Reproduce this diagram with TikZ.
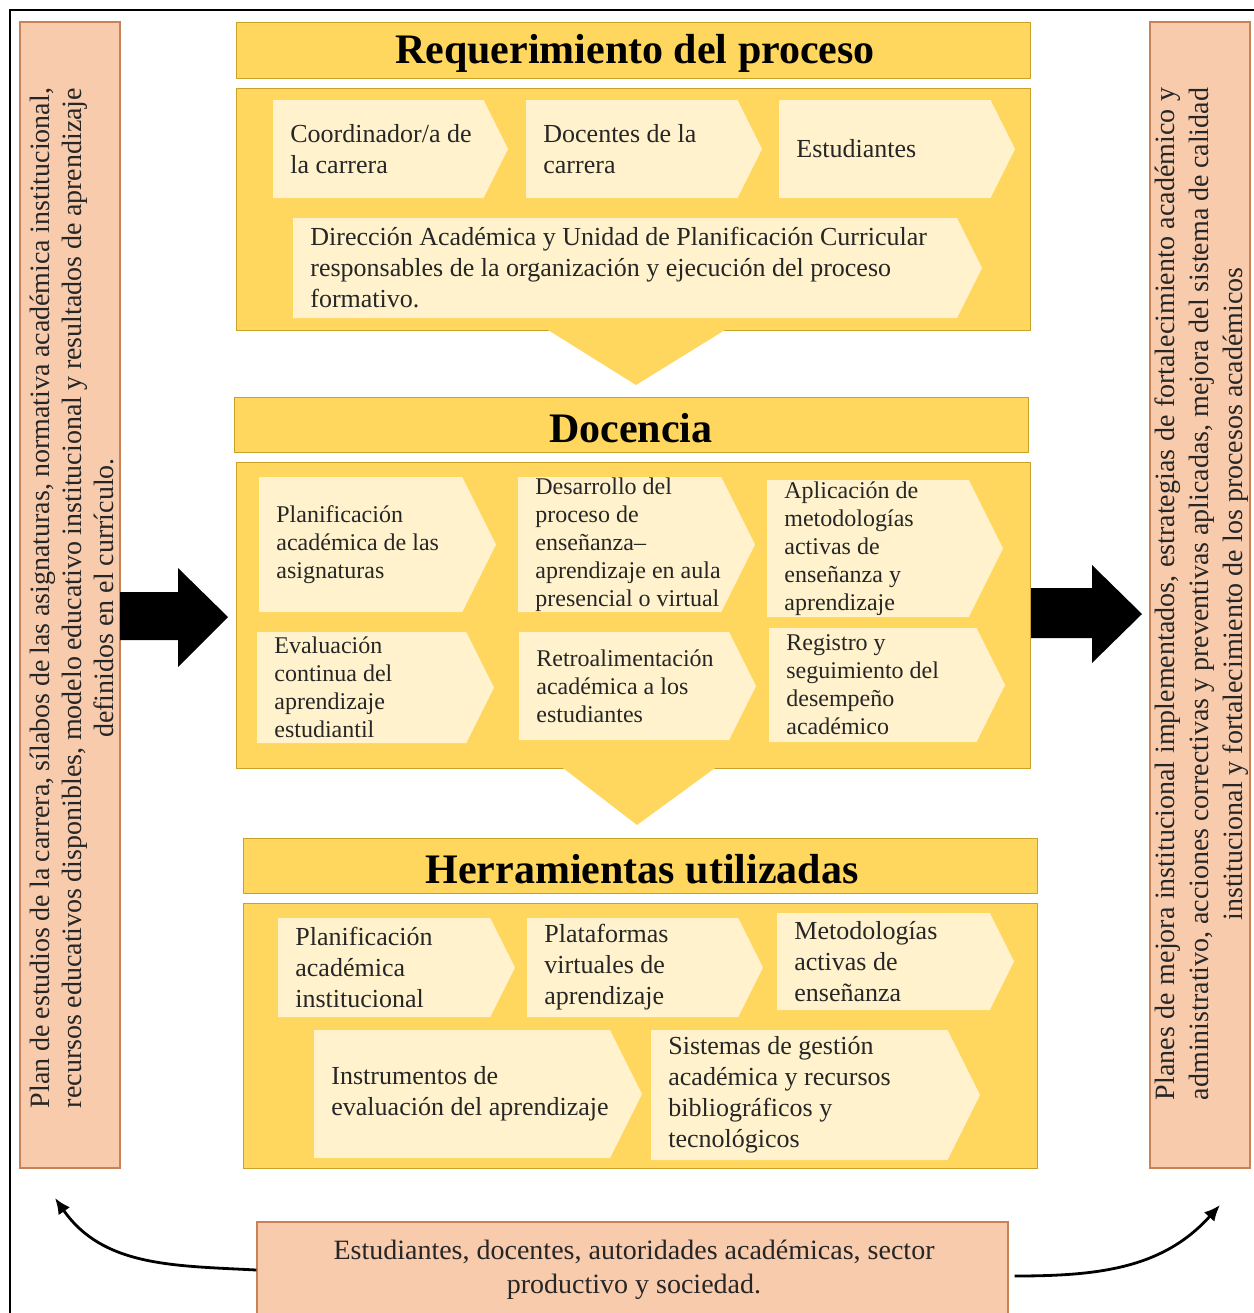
\documentclass[tikz,border=0pt]{standalone}
\usepackage{fontspec}
\setmainfont{Liberation Serif}
\usetikzlibrary{arrows.meta}

\definecolor{panelyellow}{HTML}{FFD75E}
\definecolor{panelline}{HTML}{C9A227}
\definecolor{chevcream}{HTML}{FFF2CC}
\definecolor{peach}{HTML}{F8CBAD}
\definecolor{peachline}{HTML}{C8825A}
\definecolor{inktext}{HTML}{262626}

% chevron: [node options]{name}{x1}{y1}{x2 (tip)}{y2}{text}
\newcommand{\chev}[7][]{%
  \fill[chevfill] (#3,#4) -- ({#5-(#6-#4)/4},#4) -- (#5,{(#4+#6)/2})
    -- ({#5-(#6-#4)/4},#6) -- (#3,#6) -- cycle;
  \node[chevtxt,#1] (#2) at ({#3+17},{(#4+#6)/2}) {#7};
}

\begin{document}
\begin{tikzpicture}[x=0.5pt,y=-0.5pt,
    frameline/.style={line width=1pt},
    titlebox/.style={fill=panelyellow,draw=panelline,line width=0.5pt},
    panel/.style={fill=panelyellow,draw=panelline,line width=0.5pt},
    titletxt/.style={font=\fontsize{21}{24}\selectfont\bfseries,inner sep=0pt},
    chevfill/.style={fill=chevcream},
    chevtxt/.style={anchor=west,align=left,inner sep=0pt,text=inktext,
      font=\fontsize{13}{15.5}\selectfont},
    smalltxt/.style={font=\fontsize{12}{14}\selectfont},
    sidebox/.style={fill=peach,draw=peachline,line width=0.6pt},
    sidetxt/.style={rotate=90,align=center,inner sep=0pt,text=inktext},
    blockarrow/.style={fill=black},
    loopline/.style={line width=1.4pt,-{Latex[length=8pt,width=7pt]}}]
  \useasboundingbox (0,0) rectangle (1254,1313);
  \clip (0,0) rectangle (1254,1313);
  \draw[frameline] (10,1340) -- (10,10) -- (1280,10);

  % side boxes
  \draw[sidebox] (20,22) rectangle (120,1168);
  \node[sidetxt,font=\fontsize{14}{16}\selectfont] (inputTxt) at (72,598)
    {\makebox[510pt][s]{Plan de estudios de la carrera, sílabos de las asignaturas, normativa académica institucional,}\\
     \makebox[510pt][s]{recursos educativos disponibles, modelo educativo institucional y resultados de aprendizaje}\\
     definidos en el currículo.};
  \draw[sidebox] (1150,22) rectangle (1250,1168);
  \node[sidetxt,font=\fontsize{14}{17}\selectfont] (outputTxt) at (1202,594)
    {\makebox[506pt][s]{Planes de mejora institucional implementados, estrategias de fortalecimiento académico y}\\
     \makebox[506pt][s]{administrativo, acciones correctivas y preventivas aplicadas, mejora del sistema de calidad}\\
     institucional y fortalecimiento de los procesos académicos};

  % block arrows
  \fill[blockarrow] (120,592) -- (178,592) -- (178,568) -- (228,617)
    -- (178,667) -- (178,640) -- (120,640) -- cycle;
  \fill[blockarrow] (1030,588) -- (1092,588) -- (1092,565) -- (1142,614)
    -- (1092,663) -- (1092,638) -- (1030,638) -- cycle;

  % Requerimiento del proceso
  \draw[titlebox] (236,22) rectangle (1030,78);
  \node[titletxt] (reqTitle) at (635,53) {Requerimiento del proceso};
  \draw[panel] (236,88) rectangle (1030,330);
  \chev{reqCoord}{273}{100}{508}{198}{Coordinador/a de\\la carrera}
  \chev{reqDoc}{526}{100}{762}{198}{Docentes de la\\carrera}
  \chev{reqEst}{779}{100}{1015}{198}{Estudiantes}
  \chev{reqDir}{293}{218}{982}{318}{Dirección Académica y Unidad de Planificación Curricular\\responsables de la organización y ejecución del proceso\\formativo.}
  \fill[panelyellow] (548,330) -- (725,330) -- (636,385) -- cycle;

  % Docencia
  \draw[titlebox] (234,397) rectangle (1028,452);
  \node[titletxt] (docTitle) at (631,428) {Docencia};
  \draw[panel] (236,462) rectangle (1030,768);
  \chev[smalltxt]{docPlan}{259}{477}{496}{612}{Planificación\\académica de las\\asignaturas}
  \chev[smalltxt]{docDes}{518}{477}{755}{612}{Desarrollo del\\proceso de\\enseñanza–\\aprendizaje en aula\\presencial o virtual}
  \chev[smalltxt]{docApl}{767}{480}{1003}{617}{Aplicación de\\metodologías\\activas de\\enseñanza y\\aprendizaje}
  \chev[smalltxt]{docEval}{257}{632}{494}{743}{Evaluación\\continua del\\aprendizaje\\estudiantil}
  \chev[smalltxt]{docRet}{519}{632}{756}{740}{Retroalimentación\\académica a los\\estudiantes}
  \chev[smalltxt]{docReg}{769}{628}{1005}{742}{Registro y\\seguimiento del\\desempeño\\académico}
  \fill[panelyellow] (563,768) -- (715,768) -- (637,825) -- cycle;

  % Herramientas utilizadas
  \draw[titlebox] (243,838) rectangle (1037,893);
  \node[titletxt] (herTitle) at (642,869) {Herramientas utilizadas};
  \draw[panel] (243,903) rectangle (1037,1168);
  \chev{herPlan}{278}{918}{515}{1017}{Planificación\\académica\\institucional}
  \chev{herPlat}{527}{918}{763}{1017}{Plataformas\\virtuales de\\aprendizaje}
  \chev{herMet}{777}{913}{1014}{1010}{Metodologías\\activas de\\enseñanza}
  \chev{herIns}{314}{1030}{642}{1158}{Instrumentos de\\evaluación del aprendizaje}
  \chev{herSis}{651}{1030}{980}{1160}{Sistemas de gestión\\académica y recursos\\bibliográficos y\\tecnológicos}

  % actores
  \node[sidebox,minimum width=375.5pt,minimum height=48pt,inner sep=0pt]
    (stakeBox) at (632.5,1270) {};
  \node[align=center,inner sep=0pt,text=inktext,font=\fontsize{14}{17}\selectfont]
    (stakeTxt) at (634,1270) {Estudiantes, docentes, autoridades académicas, sector\\productivo y sociedad.};
  \coordinate (leftEnd) at (55,1198);
  \coordinate (rightEnd) at (1220,1205);
  \draw[loopline] (stakeBox.west) to[out=177,in=-55] (leftEnd);
  \draw[loopline] ([xshift=3pt,yshift=-3pt]stakeBox.east) to[out=0,in=-132] (rightEnd);
\end{tikzpicture}
\end{document}
